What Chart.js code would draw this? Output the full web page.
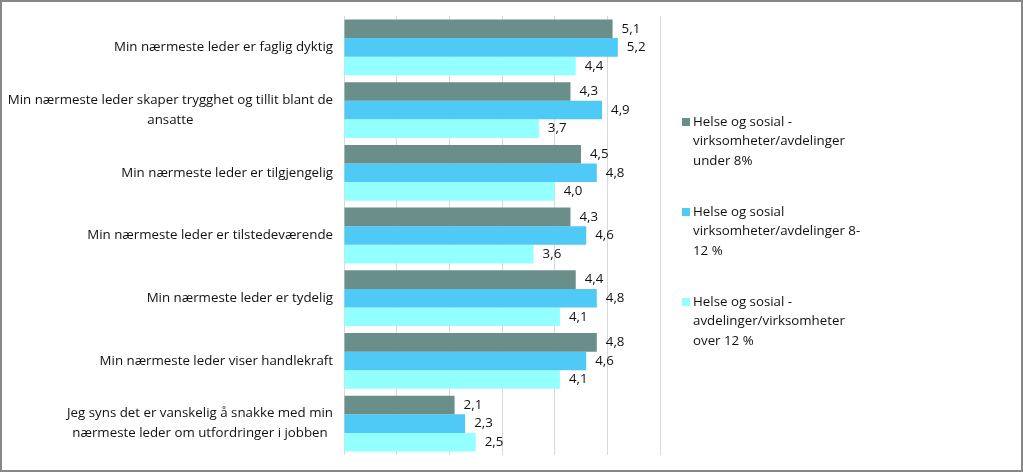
<!DOCTYPE html>
<html>
<head>
<meta charset="utf-8">
<script src="https://cdn.jsdelivr.net/npm/chart.js@4/dist/chart.umd.min.js"></script>
<style>
    body { margin: 0; background: #fff; }
    #wrap { width: 1023px; height: 472px; }
</style>
</head>
<body>
<div id="wrap"><canvas id="myChart" width="1023" height="472"></canvas></div>
<script>
const categories = [
    ["Min nærmeste leder er faglig dyktig"],
    ["Min nærmeste leder skaper trygghet og tillit blant de", "ansatte"],
    ["Min nærmeste leder er tilgjengelig"],
    ["Min nærmeste leder er tilstedeværende"],
    ["Min nærmeste leder er tydelig"],
    ["Min nærmeste leder viser handlekraft"],
    ["Jeg syns det er vanskelig å snakke med min", "nærmeste leder om utfordringer i jobben"],
];
const under8 = [5.1, 4.3, 4.5, 4.3, 4.4, 4.8, 2.1];
const from8to12 = [5.2, 4.9, 4.8, 4.6, 4.8, 4.6, 2.3];
const over12 = [4.4, 3.7, 4.0, 3.6, 4.1, 4.1, 2.5];
const seriesNames = [
    ["Helse og sosial -", "virksomheter/avdelinger", "under 8%"],
    ["Helse og sosial", "virksomheter/avdelinger 8-", "12 %"],
    ["Helse og sosial -", "avdelinger/virksomheter", "over 12 %"],
];
const colors = ["#6a8f8b", "#4fcaf7", "#93ffff"];

const font = "13.3px 'Open Sans', sans-serif";

const drawExtras = {
    id: "drawExtras",
    afterDraw(chart) {
        const ctx = chart.ctx;
        const yScale = chart.scales.y;
        const area = chart.chartArea;
        ctx.save();
        ctx.font = font;
        ctx.fillStyle = "#111";
        ctx.textBaseline = "middle";

        // category labels: block right aligned, lines centred
        categories.forEach((lines, i) => {
            const yc = yScale.getPixelForValue(i);
            const widest = Math.max(...lines.map((l) => ctx.measureText(l).width));
            const cx = area.left - 11 - widest / 2;
            const lh = 20;
            ctx.textAlign = "center";
            lines.forEach((l, j) => {
                ctx.fillText(l, cx, yc + (j - (lines.length - 1) / 2) * lh);
            });
        });

        // value labels
        ctx.textAlign = "left";
        chart.data.datasets.forEach((ds, di) => {
            chart.getDatasetMeta(di).data.forEach((bar, i) => {
                const txt = ds.data[i].toFixed(1).replace(".", ",");
                ctx.fillText(txt, bar.x + 9, bar.y);
            });
        });

        // legend
        const lx = 682;
        const starts = [122, 212, 302];
        seriesNames.forEach((lines, i) => {
            ctx.fillStyle = colors[i];
            ctx.fillRect(lx, starts[i] - 4, 8, 8);
            ctx.fillStyle = "#111";
            lines.forEach((l, j) => {
                ctx.fillText(l, lx + 11, starts[i] + j * 19.5);
            });
        });

        // outer border
        ctx.strokeStyle = "#878787";
        ctx.lineWidth = 2;
        ctx.strokeRect(1, 1, chart.width - 2, chart.height - 2);
        ctx.restore();
    },
};

const ctx = document.querySelector("#myChart");

const myChart = new Chart(ctx, {
    type: "bar",
    data: {
        labels: categories.map((c) => c.join(" ")),
        datasets: [
            { label: seriesNames[0].join(" "), data: under8, backgroundColor: colors[0] },
            { label: seriesNames[1].join(" "), data: from8to12, backgroundColor: colors[1] },
            { label: seriesNames[2].join(" "), data: over12, backgroundColor: colors[2] },
        ],
    },
    options: {
        indexAxis: "y",
        responsive: false,
        animation: false,
        datasets: {
            bar: {
                categoryPercentage: 0.89,
                barPercentage: 1,
            },
        },
        layout: {
            padding: { left: 344, right: 363, top: 16, bottom: 17 },
        },
        plugins: {
            legend: { display: false },
            tooltip: { enabled: false },
        },
        scales: {
            x: {
                min: 0,
                max: 6,
                ticks: { stepSize: 1, display: false },
                grid: { color: "#d9d9d9", drawTicks: false },
                border: { display: false },
                afterFit: (s) => { s.height = 0; },
            },
            y: {
                ticks: { display: false },
                grid: { display: false, drawTicks: false },
                border: { display: false },
                afterFit: (s) => { s.width = 0; },
            },
        },
    },
    plugins: [drawExtras],
});
</script>
</body>
</html>
